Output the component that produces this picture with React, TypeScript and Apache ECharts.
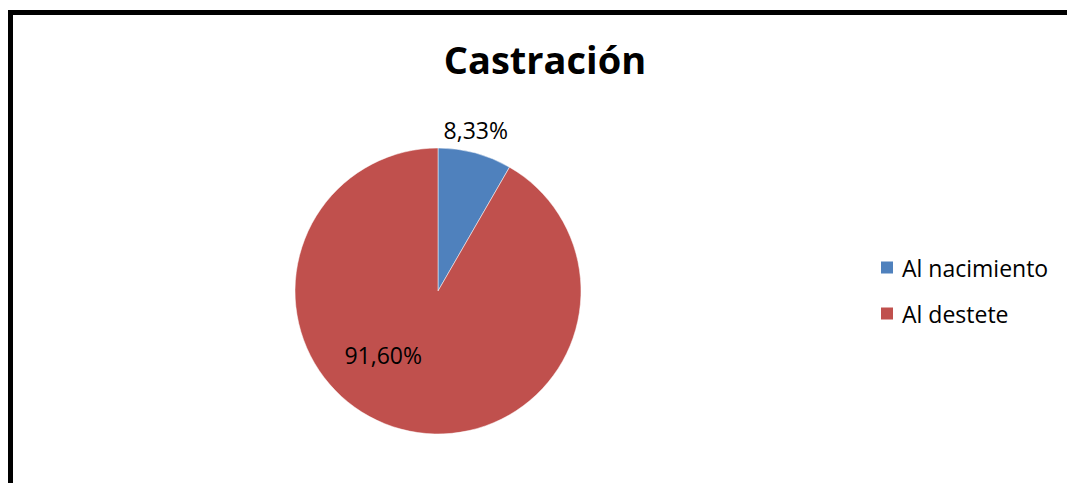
import React, { useEffect, useRef } from "react";
import * as echarts from "echarts";

const title = "Castración";
const categories = ["Al nacimiento", "Al destete"];
const values = [8.33, 91.6];
const colors = ["#4F81BD", "#C0504D"];

const fmt = (v: number) => v.toFixed(2).replace(".", ",") + "%";

export default function App() {
  const ref = useRef<HTMLDivElement>(null);
  useEffect(() => {
    if (!ref.current) return;
    const chart = echarts.init(ref.current, null, { renderer: "svg" });
    chart.setOption({
      animation: false,
      backgroundColor: "#ffffff",
      title: {
        text: title,
        left: 545,
        top: 40,
        padding: 0,
        textAlign: "center",
        textStyle: {
          fontFamily: "Open Sans",
          fontWeight: "bold",
          fontSize: 38,
          color: "#000",
        },
      },
      legend: {
        orient: "vertical",
        left: 879,
        top: 256,
        padding: 0,
        itemWidth: 14,
        itemHeight: 14,
        itemGap: 23,
        icon: "rect",
        textStyle: { fontFamily: "Open Sans", fontSize: 23, color: "#000", padding: [0, 0, 0, 3] },
        data: categories,
      },
      graphic: [
        {
          type: "rect",
          shape: { x: 10.5, y: 12.5, width: 3000, height: 3000 },
          style: { fill: "none", stroke: "#000", lineWidth: 5 },
          silent: true,
        },
      ],
      series: [
        {
          type: "pie",
          center: [438, 291],
          radius: [0, 143],
          startAngle: 90,
          clockwise: true,
          labelLine: { show: false },
          itemStyle: { borderColor: "#fff", borderWidth: 0.5 },
          label: {
            fontFamily: "Open Sans",
            fontSize: 23,
            color: "#000",
            position: "inside",
            formatter: (p: any) => fmt(p.value),
          },
          data: categories.map((c, i) => ({
            name: c,
            value: values[i],
            itemStyle: { color: colors[i] },
            label: i === 0 ? { offset: [18.5, -89] } : { offset: [-35.5, -7.5] },
          })),
        },
      ],
    });
    return () => chart.dispose();
  }, []);
  return (
    <div
      ref={ref}
      style={{ position: "absolute", left: 0, top: 0, width: 1067, height: 483 }}
    />
  );
}
